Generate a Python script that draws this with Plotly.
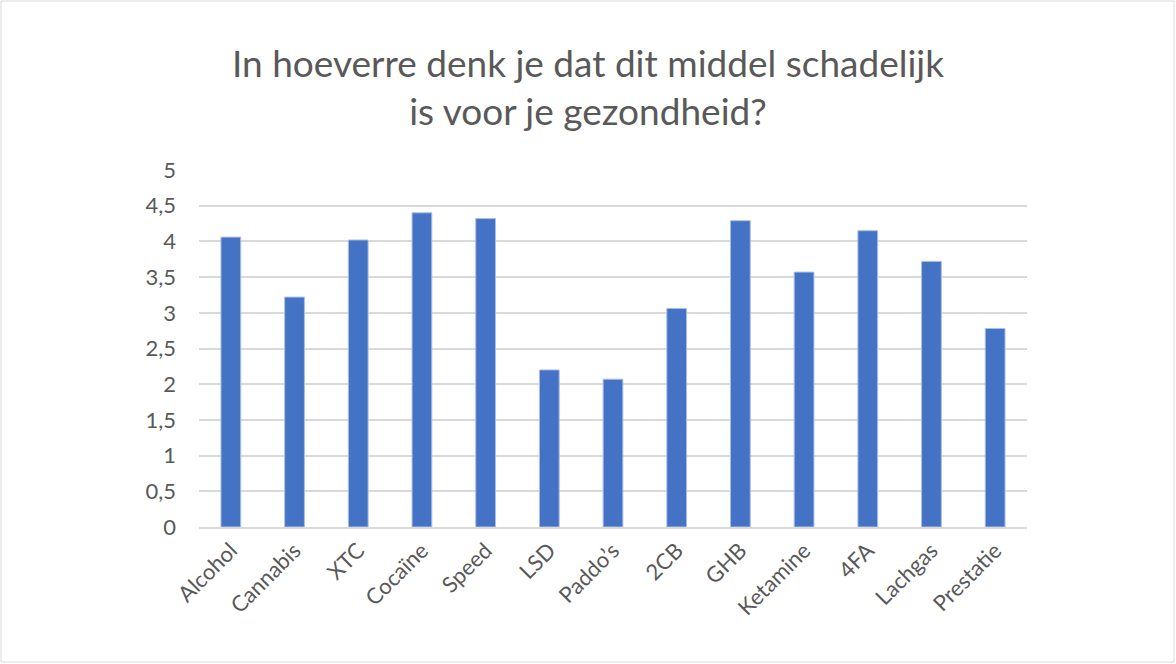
import plotly.graph_objects as go

categories = ["Alcohol", "Cannabis", "XTC", "Cocaïne", "Speed", "LSD", "Paddo’s",
              "2CB", "GHB", "Ketamine", "4FA", "Lachgas", "Prestatie"]
values = [4.06, 3.22, 4.02, 4.40, 4.32, 2.20, 2.07, 3.06, 4.29, 3.57, 4.15, 3.72, 2.78]
y_ticks = [0, 0.5, 1, 1.5, 2, 2.5, 3, 3.5, 4, 4.5, 5]
y_tick_labels = ["0", "0,5", "1", "1,5", "2", "2,5", "3", "3,5", "4", "4,5", "5"]
title_text = "In hoeverre denk je dat dit middel schadelijk<br>is voor je gezondheid?"

W, H = 1176, 664
L, R, T, B = 199, 149, 170, 137
pw, ph = W - L - R, H - T - B

fig = go.Figure(go.Bar(
    x=categories, y=values,
    marker=dict(color="#4472C4", line=dict(color="#A9BEE6", width=1)),
))

fig.update_layout(
    width=W, height=H,
    margin=dict(l=L, r=R, t=T, b=B, pad=0),
    paper_bgcolor="white", plot_bgcolor="white",
    bargap=0.69,
    font=dict(family="Lato, Open Sans, sans-serif", color="#595959"),
    title=dict(text=title_text, x=0.5, xref="container", xanchor="center",
               y=1 - 77 / H, yref="container", yanchor="middle",
               font=dict(size=37, color="#595959", family="Lato, Open Sans, sans-serif")),
    showlegend=False,
    shapes=[dict(type="rect", xref="paper", yref="paper",
                 x0=(1 - L) / pw, x1=(W - 2 - L) / pw,
                 y0=(T + ph - (H - 2)) / ph, y1=(T + ph - 1) / ph,
                 line=dict(color="#D9D9D9", width=1), fillcolor="rgba(0,0,0,0)",
                 layer="below")],
)
fig.update_xaxes(tickangle=-45, tickfont=dict(size=22, color="#595959"),
                 showline=True, linecolor="#D9D9D9", linewidth=2,
                 ticks="", showgrid=False)
fig.update_yaxes(range=[0, 5], tickvals=y_ticks, ticktext=y_tick_labels,
                 tickfont=dict(size=22, color="#595959"),
                 showgrid=True, gridcolor="#D9D9D9", gridwidth=1.5,
                 zeroline=False, showline=False, ticks="", ticklabelstandoff=22)

fig.write_html("out.html", config={"displayModeBar": False},
               post_script="document.body.style.margin='0';")
